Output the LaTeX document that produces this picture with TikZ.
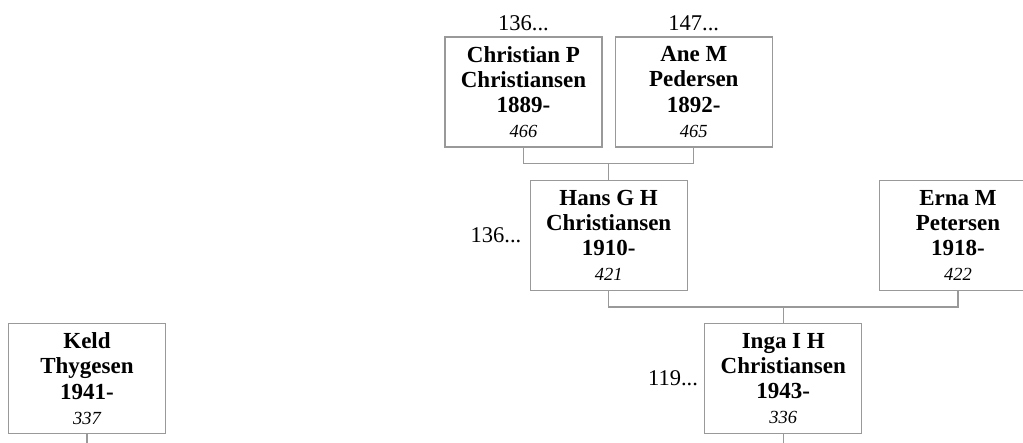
\documentclass[tikz,border=0pt]{standalone}
\usepackage{fontspec}
\setmainfont{Liberation Serif}
\usetikzlibrary{positioning,calc}
\definecolor{txt}{HTML}{000000}
\definecolor{lnB}{HTML}{999999}
\newcommand\recno[1]{{\fontsize{18.5}{25.2}\selectfont\mdseries\itshape #1}}

\begin{document}
\begin{tikzpicture}[
  x=1pt,y=-1pt,
  text=txt,
  bx/.style={draw=lnB,line width=1.3pt,fill=white,align=center,inner sep=0pt,
    minimum width=157pt,minimum height=110pt,font=\fontsize{23}{25.2}\selectfont\bfseries},
  ref/.style={inner sep=0pt,font=\fontsize{22.5}{24}\selectfont},
  ln/.style={draw=lnB,line width=1.3pt},
  ]
\useasboundingbox (0,0) rectangle (1023,442);
\clip (0,0) rectangle (1023,442);

% ================= grandparents =================
\node[bx] (cp) at (523.5,92) {Christian P\\Christiansen\\1889-\\\recno{466}};
\node[bx,right=12pt of cp] (am) {Ane M\\Pedersen\\1892-\\\recno{465}};
\node[ref,above=5pt of cp] (cpR) {136...};
\node[ref,above=5pt of am] (amR) {147...};

% ================= parents =================
\coordinate (m1) at ($(cp.south)!0.5!(am.south)+(0pt,-16pt)$);
\node[bx,anchor=north] (hg) at ([yshift=-16pt]m1) {Hans G H\\Christiansen\\1910-\\\recno{421}};
\node[bx,right=191pt of hg] (em) {Erna M\\Petersen\\1918-\\\recno{422}};
\node[ref,left=8pt of hg] (hgR) {136...};
\draw[ln] (cp.south) |- (m1) -| (am.south);
\draw[ln] (m1) -- (hg.north);

% ================= couple =================
\coordinate (m2) at ($(hg.south)!0.5!(em.south)+(0pt,-16pt)$);
\node[bx,anchor=north] (ig) at ([yshift=-16pt]m2) {Inga I H\\Christiansen\\1943-\\\recno{336}};
\node[ref,left=6pt of ig] (igR) {119...};
\draw[ln] (hg.south) |- (m2) -| (em.south);
\draw[ln] (m2) -- (ig.north);

\node[bx,left=538pt of ig] (kt) {Keld\\Thygesen\\1941-\\\recno{337}};

% ---- lines down to the children (cut by the frame) ----
\coordinate (igD) at ([yshift=-20pt]ig.south);
\coordinate (ktD) at ([yshift=-20pt]kt.south);
\draw[ln] (ig.south) -- (igD);
\draw[ln] (kt.south) -- (ktD);

\end{tikzpicture}
\end{document}
